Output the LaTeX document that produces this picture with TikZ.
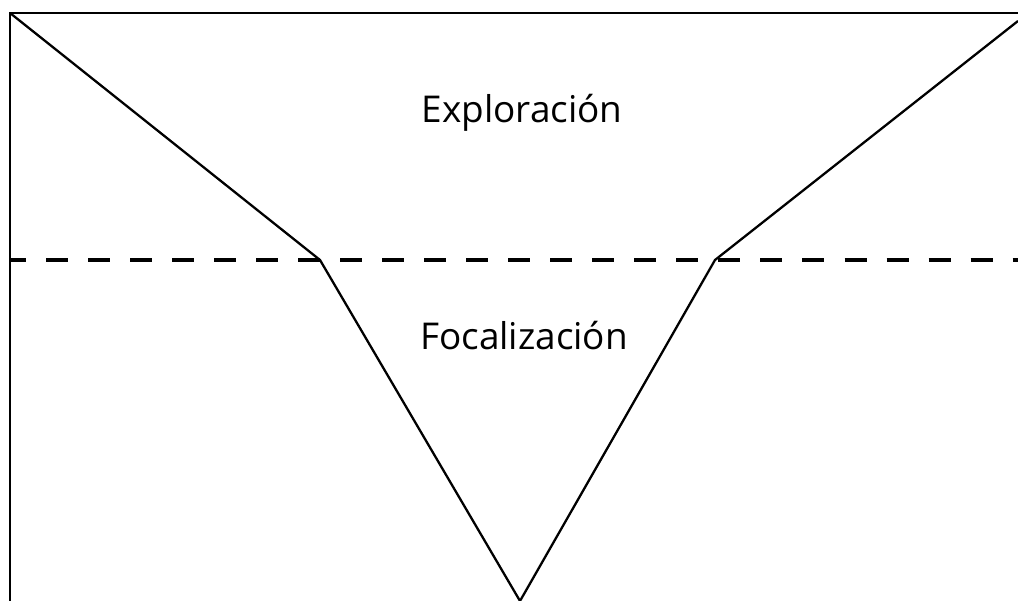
\documentclass[tikz,border=0pt]{standalone}
\usepackage{fontspec}
\setmainfont{Open Sans}
\usetikzlibrary{positioning, calc}
\tikzset{funnel/.style={line width=0.65pt, line join=miter}}
\tikzset{divider/.style={line width=0.9pt, dash pattern=on 6.26pt off 5.69pt, dash phase=1.7pt}}
\tikzset{phase/.style={anchor=base, font=\fontsize{10.5pt}{12pt}\selectfont}}

\begin{document}
\begin{tikzpicture}[x=0.01cm, y=-0.01cm]
      \useasboundingbox (0,0) rectangle (1018,601);

      \coordinate (tl) at (10,13);
      \coordinate (tr) at (1018,13);
      \coordinate (bl) at (10,601);
      \coordinate (in) at (320,260);
      \coordinate (tip) at (520,601);
      \coordinate (out) at (715,260);
      \coordinate (rim) at (1018,21);
      \coordinate (dl) at (10,260);
      \coordinate (dr) at (1018,260);

      \draw[funnel] (bl) -- (tl) -- (tr);
      \draw[funnel] (tl) -- (in) -- (tip) -- (out) -- (rim);
      \draw[divider] (dl) -- (dr);

      \node[phase] (explo) at (522,123) {Exploración};
      \node[phase] (foco) at (524,350) {Focalización};

    \end{tikzpicture}
\end{document}
